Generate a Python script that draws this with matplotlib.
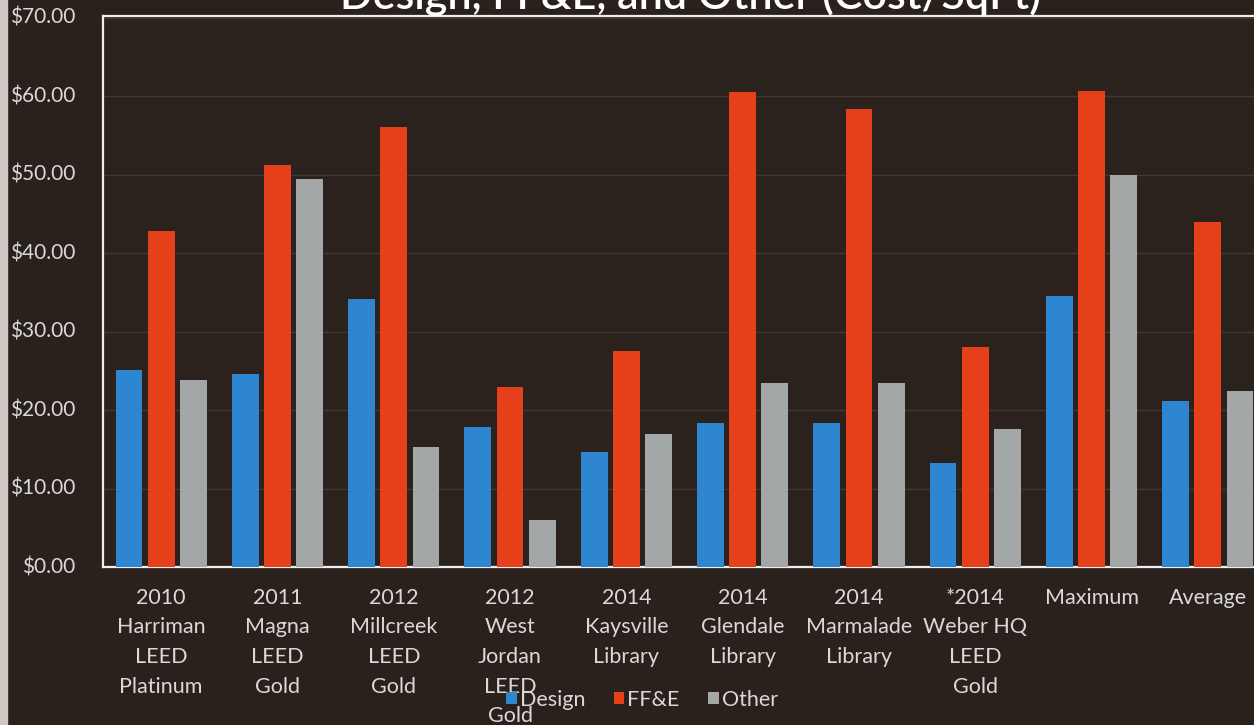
import numpy as np
import matplotlib
matplotlib.use("Agg")
from matplotlib import pyplot as plt
from matplotlib.patches import Rectangle
from matplotlib.ticker import FuncFormatter

plt.rcParams['font.family'] = ['Lato', 'DejaVu Sans']

# 数据
categories = ["2010\nHarriman\nLEED\nPlatinum", "2011\nMagna\nLEED\nGold",
              "2012\nMillcreek\nLEED\nGold", "2012\nWest\nJordan\nLEED\nGold",
              "2014\nKaysville\nLibrary", "2014\nGlendale\nLibrary",
              "2014\nMarmalade\nLibrary", "*2014\nWeber HQ\nLEED\nGold",
              "Maximum", "Average"]
design = [25.1, 24.6, 34.1, 17.9, 14.7, 18.3, 18.4, 13.3, 34.5, 21.2]
ffe = [42.8, 51.2, 56.0, 22.9, 27.5, 60.5, 58.4, 28.0, 60.7, 43.9]
other = [23.8, 49.4, 15.3, 6.0, 17.0, 23.4, 23.5, 17.6, 49.9, 22.4]

bg = '#2a211d'
txt = '#d9d9d9'

fig = plt.figure(figsize=(12.54, 7.25), dpi=100, facecolor=bg)
# 左边的浅色边
fig.patches.append(Rectangle((0, 0), 7 / 1254, 1, transform=fig.transFigure,
                             color='#cfcac6', zorder=0))
ax = fig.add_axes([103 / 1254, 1 - 567 / 725, 1163 / 1254, 551 / 725])
ax.set_facecolor('#2b221d')

x = np.arange(len(categories))
w = 0.23
step = 0.277
ax.bar(x - step, design, w, color='#2f86d0', label='Design', zorder=3)
ax.bar(x, ffe, w, color='#e5401a', label='FF&E', zorder=3)
ax.bar(x + step, other, w, color='#a3a7a7', label='Other', zorder=3)

ax.set_xlim(-0.5, len(categories) - 0.5)
ax.set_ylim(0, 70.2)
ax.set_yticks(np.arange(0, 71, 10))
ax.yaxis.set_major_formatter(FuncFormatter(lambda v, p: "${:.2f}".format(v)))
ax.set_xticks(x)
ax.set_xticklabels(categories, linespacing=1.6, va='top')
ax.tick_params(axis='y', length=0, pad=20, labelsize=15, labelcolor=txt)
ax.tick_params(axis='x', length=0, pad=15, labelsize=15.5, labelcolor=txt)
for lbl in ax.get_yticklabels():
    lbl.set_verticalalignment('center')

ax.grid(axis='y', color='#433831', linewidth=1, zorder=1)
for s in ['left', 'top', 'bottom']:
    ax.spines[s].set_color('#eeeeee')
    ax.spines[s].set_linewidth(1.6)
ax.spines['right'].set_visible(False)

# 标题（上面被裁掉）
fig.text(690 / 1254, 1 - 9 / 725, "Design, FF&E, and Other (Cost/SqFt)",
         ha='center', va='baseline', fontsize=31, color='white',
         fontweight='semibold')

fig.legend(loc='center', bbox_to_anchor=(642 / 1254, 1 - 700 / 725), ncol=3,
           frameon=False, fontsize=15.5, labelcolor=txt, handlelength=0.5,
           handleheight=0.5, handletextpad=0.15, columnspacing=1.3)

plt.savefig("out.png", dpi=100, facecolor=bg)
